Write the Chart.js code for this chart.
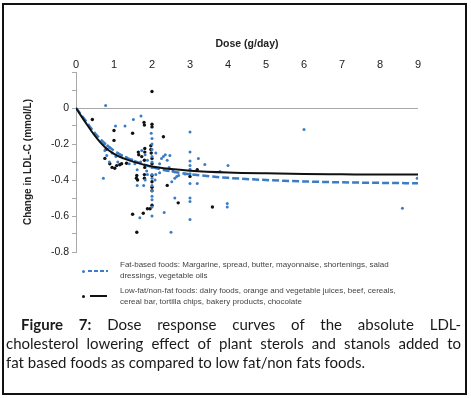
<!DOCTYPE html>
<html>
<head>
<meta charset="utf-8">
<script src="https://cdn.jsdelivr.net/npm/chart.js@4.4.1/dist/chart.umd.min.js"></script>
<style>
body { margin: 0; background: #fff; }
#wrap { position: relative; width: 471px; height: 398px; overflow: hidden; background: #fff; }
#frame { position: absolute; left: 2px; top: 3px; width: 465px; height: 392px; border: 2px solid #111; box-sizing: border-box; }
#chart { position: absolute; left: 0; top: 0; }
.leg { position: absolute; left: 120px; font: 8px 'Liberation Sans', Arial, sans-serif; line-height: 11px; color: #444; white-space: nowrap; }
.dot { position: absolute; width: 3px; height: 3px; border-radius: 50%; }
.seg { position: absolute; height: 2px; }
.cap { position: absolute; font: 15px Lato, 'Open Sans', sans-serif; line-height: 19px; color: #1a1a1a; white-space: nowrap; }
.just { text-align: justify; text-align-last: justify; white-space: normal; }
</style>
</head>
<body>
<div id="wrap">
  <canvas id="chart" width="471" height="262"></canvas>

  <span class="dot" style="left:82px;top:270px;background:#3b7dc4"></span>
  <span class="seg" style="left:88px;top:270px;width:20px;background:repeating-linear-gradient(90deg,#3b7dc4 0 4px,transparent 4px 6px)"></span>
  <div class="leg" style="top:259px">Fat-based foods: Margarine, spread, butter, mayonnaise, shortenings, salad<br>dressings, vegetable oils</div>

  <span class="dot" style="left:82px;top:295px;background:#111"></span>
  <span class="seg" style="left:90px;top:295px;width:17px;background:#111"></span>
  <div class="leg" style="top:285px">Low-fat/non-fat foods: dairy foods, orange and vegetable juices, beef, cereals,<br>cereal bar, tortilla chips, bakery products, chocolate</div>

  <div class="cap just" style="left:21px;top:315px;width:440px"><b>Figure 7:</b> Dose response curves of the absolute LDL-</div>
  <div class="cap just" style="left:6px;top:334px;width:455px">cholesterol lowering effect of plant sterols and stanols added to</div>
  <div class="cap" style="left:6px;top:353px">fat based foods as compared to low fat/non fats foods.</div>

  <div id="frame"></div>
</div>
<script>
// dose axis ticks and labelled change values
var xTicks = [0, 1, 2, 3, 4, 5, 6, 7, 8, 9],
    yTickLabels = [0, -0.2, -0.4, -0.6, -0.8];

// fat-based foods (blue dots)
var fatDose = [0.78, 0.72, 1.04, 1.29, 1.51, 1.71, 0.75, 0.83, 0.88, 0.76, 0.81, 0.88, 0.95, 1.05, 1.10,
    1.20, 1.33, 1.47, 1.55, 1.40, 1.61, 1.68, 1.73, 1.82, 1.88, 1.86, 1.82, 1.88, 1.78,
    2.0, 2.0, 2.0, 2.0, 2.0, 2.0, 2.0, 2.0, 2.0, 2.0, 2.0, 2.0, 2.0, 2.0,
    1.98, 2.10, 2.08, 2.10, 2.20, 2.25, 2.30, 2.35, 2.40, 2.32, 2.50, 2.60, 2.60, 2.70, 2.45, 2.20,
    2.55, 2.47, 2.52, 2.65, 2.87,
    3.0, 3.0, 3.0, 3.0, 3.0, 3.0, 3.0, 3.0, 3.0, 3.0,
    3.22, 3.19, 3.39, 3.79, 4.00, 3.98, 3.98, 6.00, 8.59, 8.98, 1.61, 1.70];
var fatChange = [0.014, -0.39, -0.10, -0.10, -0.064, -0.045, -0.20, -0.21, -0.22, -0.236, -0.264, -0.30, -0.25, -0.27, -0.30,
    -0.264, -0.277, -0.288, -0.31, -0.31, -0.43, -0.61, -0.236, -0.26, -0.29, -0.35, -0.40, -0.37, -0.43,
    -0.17, -0.20, -0.23, -0.27, -0.30, -0.33, -0.37, -0.39, -0.43, -0.46, -0.49, -0.51, -0.55, -0.60,
    -0.14, -0.25, -0.40, -0.37, -0.31, -0.28, -0.27, -0.26, -0.29, -0.58, -0.69, -0.39, -0.50, -0.375, -0.33, -0.36,
    -0.35, -0.264, -0.41, -0.38, -0.366,
    -0.134, -0.245, -0.295, -0.32, -0.34, -0.365, -0.42, -0.50, -0.52, -0.62,
    -0.28, -0.42, -0.314, -0.353, -0.32, -0.53, -0.55, -0.12, -0.557, -0.39, -0.343, -0.30];

// low-fat / non-fat foods (black dots)
var lowDose = [0.43, 1.00, 1.00, 0.79, 0.76, 0.89, 1.07, 1.15, 1.20, 1.33, 0.95, 1.02, 1.49, 1.79, 1.80,
    2.00, 2.00, 2.30, 1.64, 1.65, 1.73, 1.81, 1.81, 1.80, 1.81, 1.97, 1.97, 1.98, 2.00, 2.00,
    1.60, 1.59, 1.62, 1.80, 1.80, 2.00, 2.00, 2.00, 2.00, 2.00, 1.88, 1.95, 1.49, 1.77, 1.60,
    2.40, 2.69, 3.19, 3.00, 3.59, 2.00];
var lowChange = [-0.064, -0.125, -0.18, -0.23, -0.28, -0.31, -0.32, -0.315, -0.31, -0.307, -0.33, -0.335, -0.14, -0.08, -0.095,
    -0.09, -0.105, -0.16, -0.245, -0.26, -0.27, -0.225, -0.245, -0.29, -0.33, -0.21, -0.23, -0.25, -0.28, -0.31,
    -0.375, -0.39, -0.40, -0.37, -0.39, -0.375, -0.41, -0.44, -0.46, -0.54, -0.56, -0.56, -0.59, -0.585, -0.69,
    -0.43, -0.527, -0.343, -0.38, -0.55, 0.092];

// fitted dose response curves
var curveDose = [0, 0.25, 0.5, 0.75, 1, 1.25, 1.5, 2, 2.5, 3, 4, 5, 6, 7, 8, 9],
    fatCurve = [0, -0.07, -0.14, -0.195, -0.237, -0.268, -0.292, -0.328, -0.352, -0.368, -0.388, -0.400, -0.408, -0.413, -0.416, -0.418],
    lowCurve = [0, -0.08, -0.155, -0.215, -0.255, -0.28, -0.298, -0.325, -0.339, -0.348, -0.358, -0.363, -0.366, -0.368, -0.37, -0.37];

function pts(xs, ys) {
    return xs.map(function(x, i) { return {x: x, y: ys[i]}; });
}

Chart.defaults.font.family = "'Liberation Sans', Arial, sans-serif";
Chart.defaults.color = '#222';

var BLUE = '#3b7dc4';

new Chart(document.getElementById('chart'), {
    type: 'scatter',
    data: {
        datasets: [{
            label: 'Fat-based foods',
            data: pts(fatDose, fatChange),
            backgroundColor: BLUE,
            borderWidth: 0,
            pointRadius: 1.5,
            order: 2
        }, {
            label: 'Low-fat/non-fat foods',
            data: pts(lowDose, lowChange),
            backgroundColor: '#111',
            borderWidth: 0,
            pointRadius: 1.7,
            order: 2
        }, {
            label: 'Fat-based curve',
            data: pts(curveDose, fatCurve),
            showLine: true,
            borderColor: BLUE,
            borderWidth: 2.5,
            borderDash: [7, 3],
            pointRadius: 0,
            tension: 0.4,
            cubicInterpolationMode: 'monotone',
            order: 1
        }, {
            label: 'Low-fat curve',
            data: pts(curveDose, lowCurve),
            showLine: true,
            borderColor: '#111',
            borderWidth: 2,
            pointRadius: 0,
            tension: 0.4,
            cubicInterpolationMode: 'monotone',
            order: 0
        }]
    },
    options: {
        responsive: false,
        animation: false,
        layout: {padding: {left: 0, right: 53, top: 0, bottom: 10}},
        plugins: {legend: {display: false}, tooltip: {enabled: false}},
        scales: {
            x: {
                type: 'linear',
                position: 'top',
                min: 0,
                max: 9,
                afterBuildTicks: function(s) { s.ticks = xTicks.map(function(v) { return {value: v}; }); },
                ticks: {padding: 0, font: {size: 11}, color: '#222'},
                grid: {display: false, drawTicks: false},
                border: {display: false},
                title: {display: true, text: 'Dose (g/day)', font: {size: 10.5, weight: 'bold'}, color: '#222', padding: {top: 38, bottom: 0}},
                afterFit: function(s) { s.height = 72; }
            },
            y: {
                min: -0.8,
                max: 0.2,
                ticks: {
                    stepSize: 0.1,
                    autoSkip: false,
                    padding: 3,
                    font: {size: 10.5},
                    color: '#222',
                    callback: function(v) {
                        var r = Math.round(v * 10) / 10;
                        return yTickLabels.indexOf(r) >= 0 ? (r === 0 ? '0' : String(r)) : '';
                    }
                },
                grid: {
                    drawTicks: true,
                    tickLength: 4,
                    color: function(c) { return c.tick && Math.abs(c.tick.value) < 1e-9 ? '#a8a8a8' : 'rgba(0,0,0,0)'; },
                    tickColor: '#aaa'
                },
                border: {display: true, color: '#aaa'},
                title: {display: true, text: 'Change in LDL-C (mmol/L)', font: {size: 10, weight: 'bold'}, color: '#222', padding: {top: 22, bottom: 0}},
                afterFit: function(s) { s.width = 76; }
            }
        }
    }
});
</script>
</body>
</html>
